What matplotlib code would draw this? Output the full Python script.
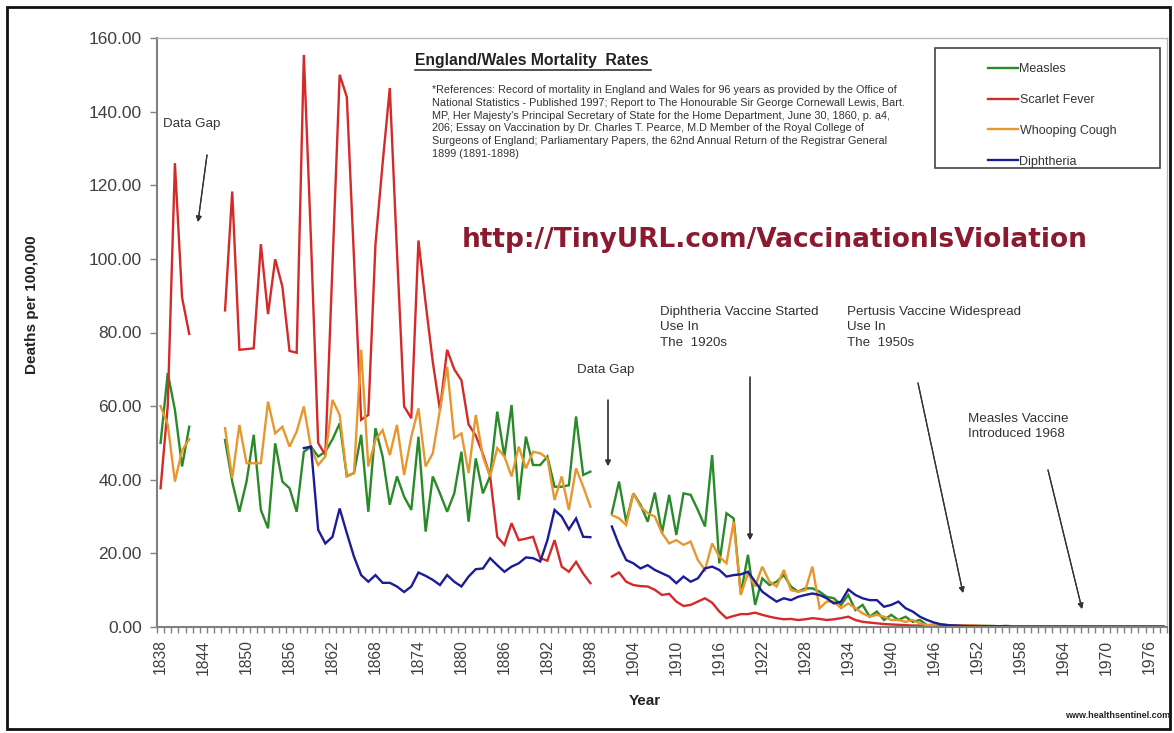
import numpy as np
import matplotlib
matplotlib.use('Agg')
import matplotlib.pyplot as plt
from matplotlib.patches import Rectangle
from matplotlib.lines import Line2D

plt.rcParams['font.family'] = ['Liberation Sans', 'DejaVu Sans']

W, H = 1174, 733

def fx(px):
    return px / W

def fy(py):
    return 1 - py / H

# categories 1838..1978, None = no data (gaps 1843-46 and 1899-1900)
years = list(range(1838, 1979))

measles = [50, 69, 59, 43.6, 54.4,
           None, None, None, None,
           50.8, 39.5, 31.3, 39.5, 52.2, 31.8, 26.8, 49.9, 39.5, 37.7,
           31.3, 47.6, 49, 46.3, 47.6, 51, 55.3, 41, 41.8, 52.2,
           31.3, 54, 46.3, 33.2, 40.9, 35.4, 31.8, 51.7, 25.9, 40.9,
           36.3, 31.3, 36.3, 47.6, 28.6, 45.8, 36.3, 41, 58.5, 46.3,
           60.3, 34.5, 51.7, 44, 44, 46.3, 38.1, 38.1, 38.5, 57.2,
           41.3, 42.2,
           None, None,
           30.9, 39.5, 28.6, 36.3, 33.2, 28.6, 36.5, 25.5, 35.9, 25,
           36.3, 35.9, 31.8, 27.3, 46.7, 17.3, 30.9, 29.5, 9, 19.6,
           6, 13.2, 11.4, 12.3, 14.1, 11, 9.6, 10.5, 10.5, 9.6,
           8.2, 7.8, 6, 8.7, 4.6, 6, 2.8, 4.2, 1.9, 3.3,
           1.9, 2.8, 1.4, 1.9, 0.5, 0.6, 0.5, 0.4, 0.4, 0.3,
           0.3, 0.3, 0.3, 0.3, 0.2, 0.3, 0.2, 0.2, 0.2, 0.2,
           0.2, 0.2, 0.2, 0.2, 0.2, 0.2, 0.2, 0.1, 0.1, 0.1,
           0.1, 0.1, 0.1, 0.1, 0.1, 0.1, 0.1, 0.1]

scarlet = [37.7, 60, 126, 89.5, 79.6,
           None, None, None, None,
           86, 118.3, 75.3, 75.5, 75.7, 104, 85, 99.9, 92.5, 75,
           74.5, 155.4, 105, 50, 46.7, 98, 150, 144, 100, 56.3,
           57.6, 104, 126, 146.4, 102, 59.9, 56.7, 105, 88, 72,
           59, 75.3, 70, 67, 55, 52, 47, 41, 24.5, 22.3,
           28.2, 23.6, 24, 24.5, 18.7, 18, 23.6, 16.4, 15, 17.7,
           14.5, 11.9,
           None, None,
           13.7, 14.8, 12.3, 11.4, 11.1, 11, 10.1, 8.7, 9, 6.9,
           5.7, 6, 6.9, 7.8, 6.6, 4.2, 2.4, 3, 3.5, 3.5,
           3.9, 3.3, 2.8, 2.4, 2.1, 2.2, 1.9, 2.1, 2.4, 2.2,
           1.9, 2.1, 2.4, 2.8, 1.9, 1.4, 1.2, 1, 0.8, 0.7,
           0.6, 0.5, 0.4, 0.4, 0.3, 0.3, 0.3, 0.3, 0.4, 0.5,
           0.4, 0.3, 0.2, 0.2, 0.1, 0.1, 0.1, 0.1, 0.1, 0.1,
           0.1, 0.1, 0.1, 0.1, 0.1, 0.1, 0.1, 0.1, 0.1, 0.1,
           0.1, 0.1, 0.1, 0.1, 0.1, 0.1, 0.1, 0.1]

whooping = [60, 55, 39.5, 48, 51,
            None, None, None, None,
            54, 40.4, 54.9, 44.5, 44.5, 44.5, 61.2, 52.6, 54.4, 49,
            53.1, 59.9, 48.6, 44, 46.3, 61.7, 57.6, 40.9, 41.8, 75.3,
            43.6, 50.8, 53.5, 46.7, 54.9, 41.3, 51.7, 59.4, 43.6, 47.2,
            59, 70.7, 51.3, 52.6, 41.8, 57.6, 46.3, 40.9, 48.6, 46.3,
            40.9, 49, 43.1, 47.6, 47.2, 45.8, 34.5, 40.9, 31.8, 43.1,
            38.1, 32.7,
            None, None,
            30.4, 29.5, 27.7, 36.3, 32.7, 30.9, 30, 25.5, 22.7, 23.6,
            22.3, 23.2, 18.2, 15.5, 22.7, 19.1, 17.3, 28.6, 8.7, 14.6,
            11, 16.4, 12.3, 11, 15.5, 10, 9.6, 10, 16.4, 5.1,
            6.9, 6.9, 5.1, 6.4, 5.1, 3.7, 2.8, 3.3, 2.8, 1.9,
            1.9, 1.4, 1.9, 1, 0.5, 0.6, 0.8, 0.5, 0.4, 0.5,
            0.4, 0.3, 0.3, 0.2, 0.2, 0.2, 0.1, 0.1, 0.1, 0.1,
            0.1, 0.1, 0.1, 0.1, 0.1, 0.1, 0.1, 0.1, 0.1, 0.1,
            0.1, 0.1, 0.1, 0.1, 0.1, 0.1, 0.1, 0.1]

diphtheria = [None] * 20 + [
              48.6, 49, 26.4, 22.7, 24.5, 32.2, 25.5, 19.1, 14.1,
              12.3, 14.1, 12, 12, 11, 9.5, 11, 14.8, 13.9, 12.8,
              11.4, 14.1, 12.3, 11, 13.7, 15.7, 15.9, 18.7, 16.8, 15,
              16.4, 17.3, 18.9, 18.7, 17.8, 23.6, 31.8, 30, 26.5, 29.5,
              24.5, 24.4,
              None, None,
              27.3, 22.3, 18.2, 17.3, 15.9, 16.8, 15.5, 14.6, 13.7, 11.9,
              13.7, 12.3, 13.2, 15.9, 16.4, 15.5, 13.7, 14.1, 14.3, 15,
              12.3, 9.6, 8.2, 6.9, 7.8, 7.3, 8.2, 8.7, 9.1, 8.7,
              7.8, 6.4, 6.9, 10.2, 8.7, 7.8, 7.3, 7.3, 5.5, 6,
              6.9, 5.1, 4.2, 2.8, 1.9, 1.2, 0.7, 0.5, 0.4, 0.3,
              0.2, 0.2, 0.2, 0.2, 0.2, 0.2, 0.1, 0.1, 0.1, 0.1,
              0.1, 0.1, 0.1, 0.1, 0.1, 0.1, 0.1, 0.1, 0.1, 0.1,
              0.1, 0.1, 0.1, 0.1, 0.1, 0.1, 0.1, 0.1]

series_names = ['Measles', 'Scarlet Fever', 'Whooping Cough', 'Diphtheria']
series_colors = ['#2a8a2a', '#d42a2a', '#e8972e', '#1c1c96']
yticks = [0, 20, 40, 60, 80, 100, 120, 140, 160]
xlabel_years = list(range(1838, 1979, 6))

fig = plt.figure(figsize=(W / 100, H / 100), dpi=100)
ax = fig.add_axes([fx(157), fy(627), (1167 - 157) / W, (627 - 38) / H])

handles = []
for vals, name, col in zip([measles, scarlet, whooping, diphtheria], series_names, series_colors):
    arr = np.array([np.nan if v is None else v for v in vals], dtype=float)
    ln, = ax.plot(years, arr, color=col, lw=1.7, label=name, solid_joinstyle='miter')
    handles.append(ln)

ax.set_xlim(1837.5, 1978.5)
ax.set_ylim(0, 160)
ax.set_yticks(yticks)
ax.set_yticklabels(['%.2f' % v for v in yticks])
ax.set_xticks(xlabel_years)
ax.set_xticklabels([str(y) for y in xlabel_years], rotation=90)
ax.set_xticks(np.arange(1837.5, 1979, 1), minor=True)
ax.tick_params(axis='x', which='major', length=0, pad=9, labelsize=11.3, labelcolor='#404040')
ax.tick_params(axis='x', which='minor', length=4, width=1, color='#808080', direction='out')
ax.tick_params(axis='y', length=5, width=1, color='#808080', labelsize=12.5, labelcolor='#404040', pad=6)
for s in ['left', 'bottom']:
    ax.spines[s].set_color('#808080')
    ax.spines[s].set_linewidth(1.5)
for s in ['top', 'right']:
    ax.spines[s].set_color('#b8b8b8')
    ax.spines[s].set_linewidth(1.0)

# axis titles
fig.text(fx(32), fy(305), 'Deaths per 100,000', rotation=90, ha='center', va='center',
         fontsize=11, fontweight='bold', color='#222222')
fig.text(fx(645), fy(701), 'Year', ha='center', va='center', fontsize=11, fontweight='bold', color='#222222')
fig.text(fx(1170), fy(716), 'www.healthsentinel.com', ha='right', va='center', fontsize=6.5,
         fontweight='bold', color='#222222')

# title + references
fig.text(fx(415), fy(60), 'England/Wales Mortality  Rates', ha='left', va='center', fontsize=11.3,
         fontweight='bold', color='#222222')
fig.add_artist(Line2D([fx(415), fx(651)], [fy(70), fy(70)], color='#222222', lw=1.1))
refs = ("*References: Record of mortality in England and Wales for 96 years as provided by the Office of\n"
        "National Statistics - Published 1997; Report to The Honourable Sir George Cornewall Lewis, Bart.\n"
        "MP, Her Majesty's Principal Secretary of State for the Home Department, June 30, 1860, p. a4,\n"
        "206; Essay on Vaccination by Dr. Charles T. Pearce, M.D Member of the Royal College of\n"
        "Surgeons of England; Parliamentary Papers, the 62nd Annual Return of the Registrar General\n"
        "1899 (1891-1898)")
fig.text(fx(432), fy(85), refs, ha='left', va='top', fontsize=7.8, color='#333333', linespacing=1.35)

fig.text(fx(462), fy(240), 'http://TinyURL.com/VaccinationIsViolation', ha='left', va='center',
         fontsize=19, fontweight='bold', color='#8b1a2e', family=['DejaVu Sans'])

# annotations
ann_kw = dict(fontsize=9.6, color='#333333', linespacing=1.38, ha='left', va='top')
fig.text(fx(163), fy(118), 'Data Gap', **ann_kw)
fig.text(fx(577), fy(364), 'Data Gap', **ann_kw)
fig.text(fx(660), fy(306), 'Diphtheria Vaccine Started\nUse In\nThe  1920s', **ann_kw)
fig.text(fx(847), fy(306), 'Pertusis Vaccine Widespread\nUse In\nThe  1950s', **ann_kw)
fig.text(fx(968), fy(413), 'Measles Vaccine\nIntroduced 1968', **ann_kw)

arrows = [((207, 155), (198, 222)),
          ((608, 400), (608, 466)),
          ((750, 377), (750, 540)),
          ((918, 383), (963, 593)),
          ((1048, 470), (1082, 609))]
for (x0, y0), (x1, y1) in arrows:
    fig.add_artist(plt.annotate('', xy=(fx(x1), fy(y1)), xytext=(fx(x0), fy(y0)),
                                xycoords='figure fraction', textcoords='figure fraction',
                                arrowprops=dict(arrowstyle='-|>', color='#333333', lw=0.9,
                                                mutation_scale=8, shrinkA=0, shrinkB=0)))

# legend box
fig.add_artist(Rectangle((fx(935), fy(168)), 225 / W, 120 / H, transform=fig.transFigure,
                         fill=False, edgecolor='#444444', lw=1.2))
fig.legend(handles=handles, loc='upper left', bbox_to_anchor=(fx(982), fy(57)),
           bbox_transform=fig.transFigure, frameon=False, fontsize=9, handlelength=2.4,
           handletextpad=0.1, labelspacing=1.5, borderpad=0, labelcolor='#333333')

# outer frame
fig.add_artist(Rectangle((fx(7), fy(729)), (1170 - 7) / W, (729 - 7) / H, transform=fig.transFigure,
                         fill=False, edgecolor='#111111', lw=2))

fig.savefig('out.png', dpi=100)
